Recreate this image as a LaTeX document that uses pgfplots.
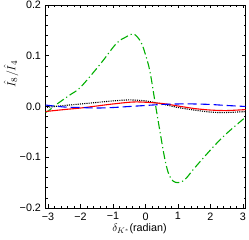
\documentclass[border=0pt]{standalone}
\usepackage{fontspec}
\setmainfont{Liberation Sans}
\usepackage{pgfplots}
\pgfplotsset{compat=1.18}
\definecolor{mgreen}{RGB}{0,175,0}
\begin{document}
\begin{tikzpicture}
\begin{axis}[name=ax,
  scale only axis, width=200bp, height=203bp,
  xmin=-3.08, xmax=3.08, ymin=-0.2, ymax=0.2,
  xtick={-3,-2,-1,0,1,2,3},
  xticklabels={−3,−2,−1,0,1,2,3},
  ytick={-0.2,-0.1,0,0.1,0.2},
  yticklabels={−0.2,−0.1,0.0,0.1,0.2},
  minor x tick num=4, minor y tick num=4,
  tick align=inside, tick pos=both,
  major tick length=3.5bp, minor tick length=2bp,
  every tick/.style={black, line width=0.6pt},
  axis line style={line width=1pt},
  tick label style={font=\fontsize{10.8}{12}\selectfont},
  xticklabel style={yshift=-1bp},
  yticklabel style={xshift=-1bp},
  xlabel={$\delta_{K^*}$(radian)},
  xlabel style={font=\fontsize{10.8}{12}\selectfont, yshift=3bp, xshift=-6bp},
  ylabel={$\hat{I}_8/\hat{I}_4$},
  ylabel style={font=\fontsize{12.5}{14}\selectfont, at={(axis description cs:-0.172,0.66)}, anchor=center},
  clip=true,
]
\addplot[mgreen, line width=1.1pt, smooth, tension=0.55, dash pattern=on 8bp off 3bp on 1.2bp off 3bp] coordinates {
(-3.1,-0.012) (-3.0,-0.009) (-2.7,0.006) (-2.3,0.024) (-2.0,0.038) (-1.4,0.083) (-0.9,0.124) (-0.6,0.137) (-0.37,0.143) (-0.15,0.128) (0.0,0.102) (0.14,0.068) (0.3,0.006) (0.45,-0.051) (0.6,-0.105) (0.72,-0.134) (0.85,-0.147) (1.0,-0.150) (1.15,-0.147) (1.3,-0.138) (1.46,-0.125) (1.8,-0.100) (2.14,-0.076) (2.45,-0.056) (2.75,-0.039) (3.1,-0.020)
};
\addplot[black, line width=1.1pt, smooth, dash pattern=on 1.1bp off 1.1bp] coordinates {
(-3.1,-0.002) (-2.5,0.002) (-2.0,0.005) (-1.5,0.008) (-1.0,0.011) (-0.5,0.013) (0.0,0.011) (0.5,0.005) (1.0,-0.002) (1.5,-0.007) (2.0,-0.011) (2.4,-0.012) (2.8,-0.011) (3.1,-0.010)
};
\addplot[red, line width=1.1pt, smooth] coordinates {
(-3.1,-0.010) (-2.5,-0.006) (-2.0,-0.003) (-1.5,0.001) (-1.0,0.005) (-0.3,0.009) (0.5,0.006) (1.0,0.001) (1.5,-0.004) (2.0,-0.007) (2.5,-0.008) (3.1,-0.006)
};
\addplot[blue, line width=1.1pt, smooth, dash pattern=on 9bp off 4bp] coordinates {
(-3.1,0.003) (-2.5,-0.001) (-2.0,-0.002) (-1.5,-0.003) (-1.0,-0.002) (-0.5,0.000) (0.0,0.002) (0.5,0.004) (1.0,0.005) (1.5,0.005) (2.0,0.004) (2.5,0.002) (3.1,0.000)
};
\end{axis}
\pgfresetboundingbox
\path ([shift={(-45.5bp,-32bp)}]ax.south west) rectangle ([shift={(3.5bp,5bp)}]ax.north east);
\end{tikzpicture}
\end{document}
